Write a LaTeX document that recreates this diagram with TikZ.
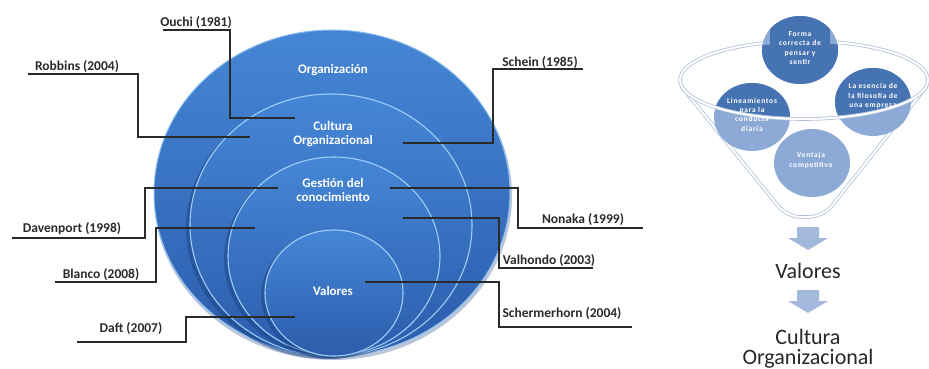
\documentclass[tikz,border=0pt]{standalone}
\usepackage{fontspec}
\setmainfont{Carlito}
\newfontfamily\spaced[LetterSpace=10]{Carlito}
\definecolor{bluetop}{HTML}{4686D6}
\definecolor{bluebot}{HTML}{2B5DAC}
\definecolor{rimlight}{HTML}{9FCDF6}
\definecolor{shadowblue}{HTML}{173F80}
\definecolor{leadercol}{HTML}{2A2A2A}
\definecolor{discdark}{HTML}{4673B2}
\definecolor{disclight}{HTML}{8DAAD7}
\definecolor{funnelcol}{HTML}{B2C3D9}
\definecolor{arrowcol}{HTML}{A2B9DB}
\definecolor{textgray}{HTML}{262626}
\tikzset{
  layer/.style={top color=bluetop, bottom color=bluebot, draw=rimlight, line width=1.1pt},
  layershadow/.style={fill=shadowblue, opacity=.45},
  leader/.style={draw=leadercol, line width=1.1pt},
  lbl/.style={font=\bfseries\fontsize{13.5}{15}\selectfont, text=leadercol, inner sep=0pt, anchor=base},
  intext/.style={font=\bfseries\fontsize{13}{14}\selectfont, text=white, align=center, inner sep=0pt},
  disctext/.style={font=\spaced\bfseries\fontsize{7.5}{9.3}\selectfont, text=white, align=center, inner sep=0pt},
  funnelline/.style={draw=funnelcol, line width=.8pt, double=white, double distance=2pt},
  bigtext/.style={font=\fontsize{22}{20}\selectfont, text=textgray, inner sep=0pt, align=center},
  blockarrow/.style={fill=arrowcol}
}
\begin{document}
\begin{tikzpicture}[x=1pt,y=-1pt]
\useasboundingbox (0,0) rectangle (929,369);

% ---------- nested layers ----------
\fill[shadowblue, opacity=.3] (333,196) ellipse[x radius=179pt, y radius=164pt];
\path[top color=bluetop, bottom color=bluebot, draw=rimlight!80!bluetop, line width=1pt]
  (332,193) ellipse[x radius=178pt, y radius=163pt];
\fill[layershadow] (327,228) ellipse[x radius=141pt, y radius=131pt];
\path[layer] (331,225) ellipse[x radius=141pt, y radius=131pt];
\fill[layershadow] (330,259) ellipse[x radius=106pt, y radius=99pt];
\path[layer] (334,256) ellipse[x radius=106pt, y radius=99pt];
\fill[layershadow] (330,296) ellipse[x radius=69pt, y radius=63pt];
\path[layer] (334,293) ellipse[x radius=69pt, y radius=63pt];

\node[intext] (org) at (333,70) {Organización};
\node[intext] (cult) at (333,134) {Cultura\\Organizacional};
\node[intext] (gest) at (333,190) {Gestión del\\conocimiento};
\node[intext] (val) at (333,291) {Valores};

% ---------- authors and their leaders ----------
\node[lbl] (ouchi) at (196,26.5) {Ouchi (1981)};
\coordinate (ouchiA) at (163,30);  \coordinate (ouchiB) at (230,30);  \coordinate (ouchiT) at (295,118);
\draw[leader] (ouchiA) -- (ouchiB) |- (ouchiT);

\node[lbl] (robbins) at (77,70.5) {Robbins (2004)};
\coordinate (robA) at (28,74);  \coordinate (robB) at (138,74);  \coordinate (robT) at (250,137);
\draw[leader] (robA) -- (robB) |- (robT);

\node[lbl] (schein) at (540,66.5) {Schein (1985)};
\coordinate (schA) at (583,69);  \coordinate (schB) at (493,69);  \coordinate (schT) at (403,143);
\draw[leader] (schA) -- (schB) |- (schT);

\node[lbl] (davenport) at (72,232.5) {Davenport (1998)};
\coordinate (davA) at (12,238);  \coordinate (davB) at (145,238);  \coordinate (davT) at (278,188);
\draw[leader] (davA) -- (davB) |- (davT);

\node[lbl] (blanco) at (101,278.5) {Blanco (2008)};
\coordinate (blaA) at (55,282);  \coordinate (blaB) at (156,282);  \coordinate (blaT) at (255,228);
\draw[leader] (blaA) -- (blaB) |- (blaT);

\node[lbl] (daft) at (131,332.5) {Daft (2007)};
\coordinate (dafA) at (77,342);  \coordinate (dafB) at (186,342);  \coordinate (dafT) at (295,317);
\draw[leader] (dafA) -- (dafB) |- (dafT);

\node[lbl] (nonaka) at (583,223) {Nonaka (1999)};
\coordinate (nonA) at (643,228);  \coordinate (nonB) at (518,228);  \coordinate (nonT) at (390,188);
\draw[leader] (nonA) -- (nonB) |- (nonT);

\node[lbl] (valhondo) at (549,264) {Valhondo (2003)};
\coordinate (valA) at (593,268);  \coordinate (valB) at (499,268);  \coordinate (valT) at (403,218);
\draw[leader] (valA) -- (valB) |- (valT);

\node[lbl] (scherm) at (562,317.5) {Schermerhorn (2004)};
\coordinate (scmA) at (632,327);  \coordinate (scmB) at (499,327);  \coordinate (scmT) at (365,282);
\draw[leader] (scmA) -- (scmB) |- (scmT);

% ---------- funnel ----------
\draw[funnelline, rounded corners=14pt] (681,86) -- (787,217) -- (823,217) -- (927,86);
\draw[funnelline] (928,80) arc[start angle=0, end angle=180, x radius=124pt, y radius=39pt];

\fill[disclight] (800,50) ellipse[x radius=38pt, y radius=34pt];
\fill[disclight] (873,102) ellipse[x radius=38pt, y radius=34pt];
\fill[disclight] (752,117) ellipse[x radius=38pt, y radius=34pt];
\fill[disclight] (812,163) ellipse[x radius=38pt, y radius=34pt];
\begin{scope}
  \clip (804,80) ellipse[x radius=122pt, y radius=37pt] (770,0) rectangle (830,60);
  \fill[discdark] (800,50) ellipse[x radius=38pt, y radius=34pt];
  \fill[discdark] (873,102) ellipse[x radius=38pt, y radius=34pt];
  \fill[discdark] (752,117) ellipse[x radius=38pt, y radius=34pt];
\end{scope}
\draw[funnelline] (680,80) arc[start angle=180, end angle=360, x radius=124pt, y radius=39pt];

\node[disctext] (forma) at (800,48) {Forma\\correcta de\\pensar y\\sentir};
\node[disctext] (esencia) at (873,96) {La esencia de\\la filosofía de\\una empresa};
\node[disctext] (linea) at (752,114.5) {Lineamientos\\para la\\conducta\\diaria};
\node[disctext] (ventaja) at (811,160.5) {Ventaja\\competitivo};

% ---------- result chain ----------
\fill[blockarrow] (797,227) -- (819,227) -- (819,238) -- (828,238) -- (808,250) -- (788,238) -- (797,238) -- cycle;
\node[bigtext, anchor=base] (valores) at (808,278) {Valores};
\fill[blockarrow] (797,290) -- (819,290) -- (819,301) -- (828,301) -- (808,313) -- (788,301) -- (797,301) -- cycle;
\node[bigtext, anchor=south] (cultura) at (808,368) {Cultura\\Organizacional};
\end{tikzpicture}
\end{document}
